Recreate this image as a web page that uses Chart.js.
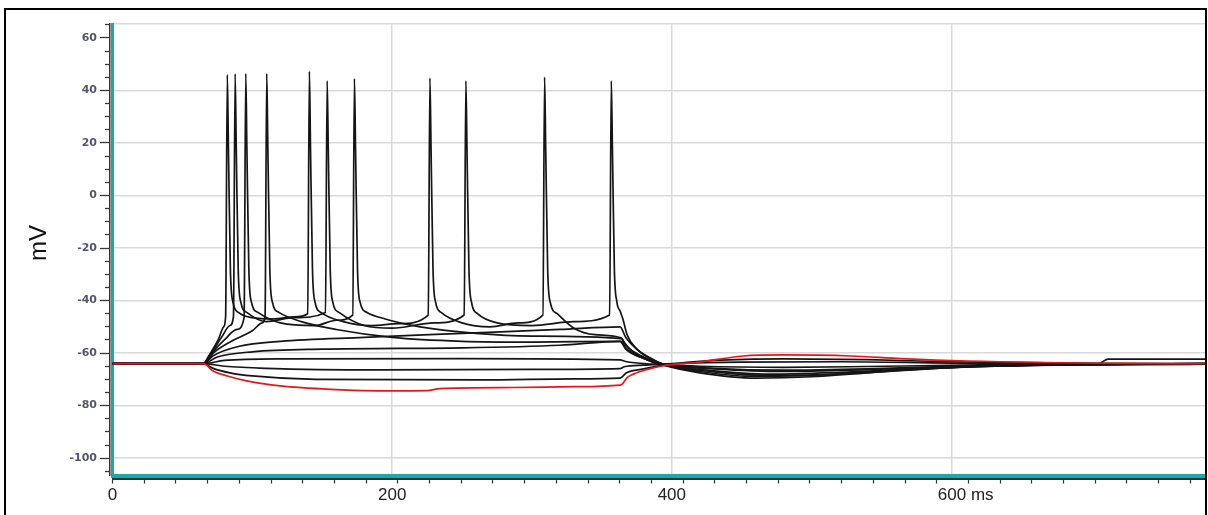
<!DOCTYPE html>
<html>
<head>
<meta charset="utf-8">
<title>Membrane potential traces</title>
<script src="https://cdn.jsdelivr.net/npm/chart.js@4.4.1/dist/chart.umd.min.js"></script>
<style>
    html, body { margin: 0; padding: 0; background: #fff; overflow: hidden; }
    #wrap { position: relative; width: 1208px; height: 515px; }
    #traceChart { display: block; }
    #frame { position: absolute; left: 4px; top: 8px; width: 1199px; height: 520px;
             border: 2px solid #000; border-bottom: none; pointer-events: none; }
</style>
</head>
<body>
<div id="wrap">
    <canvas id="traceChart" width="1208" height="515"></canvas>
    <div id="frame"></div>
</div>
<script>
// [time ms, potential mV], one array per sweep

var redTrace = [[0,-64],[65,-64],[72,-66.8],[84,-69],[96,-70.6],[120,-72.5],[156,-73.8],[200,-74.4],[225,-74.3],
    [234,-73.5],[287,-73.1],[330,-72.8],[363,-72.2],[365,-71.5],[368,-69.3],[372.5,-68],[382,-66.3],[393,-64.9],
    [420,-63.4],[451,-61.1],[480,-60.7],[528,-61.1],[564,-62.1],[611,-63],[721,-63.9],[782,-64]];

var sweep1 = [[0,-64],[65,-64],[72,-65.8],[84,-67.5],[100,-68.7],[145,-70],[263,-70.2],[330,-69.8],[363,-69.5],
    [365,-68.8],[367,-67.7],[378,-66.2],[393,-64.7],[430,-62.8],[480,-62.2],[540,-62.5],[600,-63.3],[700,-63.9],[782,-64]];

var sweep2 = [[0,-64],[65,-64],[80,-65],[110,-65.8],[190,-66.4],[300,-66.2],[363,-65.9],[366,-65.2],[380,-64.6],
    [400,-64],[450,-63.4],[520,-63.3],[600,-63.8],[705,-64],[712,-62.3],[782,-62.3]];

var sweep3 = [[0,-64],[65,-64],[80,-62.8],[120,-62.2],[250,-62.1],[363,-62.6],[367,-63.2],[385,-64.2],[420,-65],
    [480,-65.4],[540,-65.1],[620,-64.5],[782,-64]];

var sweep4 = [[0,-64],[65,-64],[75,-61.5],[100,-59.5],[150,-58.5],[250,-58],[320,-57],[363,-55.5],[367,-58.5],
    [380,-62],[395,-64.3],[430,-65.8],[480,-66.5],[540,-66],[600,-65],[700,-64.3],[782,-64]];

var sweep5 = [[0,-64],[65,-64],[72,-61],[90,-57.5],[120,-55.5],[180,-54],[250,-52.5],[320,-51],[363,-50],
    [367,-54],[376,-59],[390,-63.5],[420,-66.5],[470,-68.5],[520,-68],[580,-66],[650,-64.8],[782,-64.2]];

var sweep6 = [[0,-64],[65,-64],[72,-60],[85,-55.5],[100,-51.5],[107,-48.5],[109.1,-46],
    [110.3,46.4],[111.1,18],[112.5,-28],[114.3,-40.5],[119,-44.5],[135,-48],[160,-51],[200,-54],[250,-55.5],
    [300,-55.8],[364,-55.5],[367,-58],[380,-62],[393,-64.3],[430,-66],[480,-67],[540,-66.3],[600,-65.2],
    [700,-64.3],[782,-64]];

var sweep7 = [[0,-64],[65,-64],[71,-60],[80,-55],[89,-51],[94.1,-46.5],
    [95.3,46.4],[96.1,18],[97.5,-28],[99.3,-40.5],[104,-44.5],[120,-48.5],[145,-49.5],[160,-47.5],[171.8,-45.5],
    [173,44.5],[173.8,18],[175.2,-28],[177,-40.5],[182,-44.5],[195,-47],[220,-50],[260,-52.5],[300,-53.5],
    [364,-54.5],[367,-57],[378,-61],[393,-64.3],[425,-66.5],[470,-68],[520,-67.3],[580,-65.8],[660,-64.6],[782,-64.1]];

var sweep8 = [[0,-64],[65,-64],[70,-60.5],[78,-54],[84,-49.5],[86.5,-46],
    [87.7,46.3],[88.5,18],[89.9,-28],[91.7,-40.5],[96,-44.5],[110,-48],[130,-46.5],[152.3,-44.5],
    [153.5,43.7],[154.3,18],[155.7,-28],[157.5,-40.5],[162,-44.5],[180,-49.5],[200,-50.5],[230,-48.5],[251.5,-45.5],
    [252.7,43.7],[253.5,18],[254.9,-28],[256.7,-40.5],[261,-45],[275,-48.5],[300,-49.5],[330,-48],[355.5,-45.5],
    [356.7,43.7],[357.5,18],[358.9,-28],[360.7,-40.5],[363,-44],[365,-47],
    [368,-53],[375,-58.5],[385,-62],[395,-64.5],[420,-67],[455,-68.8],[500,-68.5],[560,-66.5],[620,-65],
    [700,-64.3],[782,-64]];

var sweep9 = [[0,-64],[65,-64],[68.9,-61],[75.7,-54.8],[79.5,-50],[80.9,-46],
    [82.1,46],[82.9,18],[84.3,-28],[86.1,-40.5],[90,-44.5],[100,-46.5],[115,-47],[130,-46.2],[139.6,-45],
    [140.8,47.3],[141.6,18],[143,-28],[144.8,-40.5],[149,-44.5],[165,-48],[185,-49.5],[205,-48.8],[225.8,-45.5],
    [227,44.7],[227.8,18],[229.2,-28],[231,-40.5],[235,-44.5],[250,-48.5],[270,-50],[290,-48.5],[307.8,-45.5],
    [309,45.1],[309.8,18],[311.2,-28],[313,-40.5],[318,-45],[330,-50.5],[345,-53],[364,-54.3],
    [366,-56],[372,-59.5],[382,-62.5],[393,-64.5],[420,-67.5],[460,-69.5],[500,-69],[540,-67.5],[600,-65.5],
    [680,-64.5],[782,-64.2]];

var blackSweeps = [sweep1, sweep2, sweep3, sweep4, sweep5, sweep6, sweep7, sweep8, sweep9];

var timeMin = 0, timeMax = 782;
var vMin = -106.6, vMax = 65.3;
var xLabelValues = [0, 200, 400, 600];
var xMinorStep = 22.67;   // small ticks under the time axis
var yMinorStep = 5;
var yLabelStep = 20;

var tealAxis = '#1aa9aa';
var gridGrey = '#d9d9d9';

function traceSet(points, color) {
    return {
        data: points,
        xAxisID: 'x',
        yAxisID: 'y',
        borderColor: color,
        borderWidth: 1.7,
        pointRadius: 0,
        fill: false,
        cubicInterpolationMode: 'monotone'
    };
}

var datasets = [traceSet(redTrace, '#e8161b')];   // first set is drawn on top
blackSweeps.forEach(function (s) {
    datasets.push(traceSet(s, '#151515'));
});

function isLabelled(v) {
    return xLabelValues.indexOf(v) >= 0;
}

Chart.defaults.font.family = 'Liberation Sans';

var ctx = document.getElementById('traceChart').getContext('2d');
var chart = new Chart(ctx, {
    type: 'line',
    data: { datasets: datasets },
    options: {
        responsive: false,
        devicePixelRatio: 1,
        animation: false,
        layout: { padding: { top: 24, right: 2, left: 0, bottom: 0 } },
        plugins: { legend: { display: false }, tooltip: { enabled: false } },
        scales: {
            x: {
                type: 'linear', position: 'bottom', weight: 0, bounds: 'data',
                min: timeMin, max: timeMax,
                afterBuildTicks: function (s) {
                    s.ticks = xLabelValues.map(function (v) { return { value: v }; });
                },
                ticks: { display: false },
                grid: { color: gridGrey, lineWidth: 1.5, drawTicks: false },
                border: { color: tealAxis, width: 4 },
                afterFit: function (s) { s.height = 3; }
            },
            x2: {
                type: 'linear', position: 'bottom', weight: 1, bounds: 'data',
                min: timeMin, max: timeMax,
                afterBuildTicks: function (s) {
                    var t = [];
                    for (var k = 0; k * xMinorStep <= timeMax; k++) {
                        t.push({ value: Math.round(k * xMinorStep * 100) / 100 });
                    }
                    xLabelValues.forEach(function (v) {
                        if (v !== 0) t.push({ value: v });
                    });
                    t.sort(function (a, b) { return a.value - b.value; });
                    s.ticks = t;
                },
                ticks: {
                    autoSkip: false, maxRotation: 0, minRotation: 0, padding: 2,
                    color: '#222', font: { size: 17 },
                    callback: function (v) {
                        if (v === 600) return '      600 ms';
                        return isLabelled(v) ? String(v) : '';
                    }
                },
                grid: {
                    drawOnChartArea: false, tickLength: 5, tickWidth: 1.2,
                    tickColor: function (c) {
                        if (c.tick && c.tick.value !== 0 && isLabelled(c.tick.value)) return 'rgba(0,0,0,0)';
                        return '#333';
                    }
                },
                border: { color: '#2b3434', width: 2 },
                afterFit: function (s) { s.height = 36.5; }
            },
            y: {
                type: 'linear', position: 'left', weight: 0,
                min: vMin, max: vMax,
                ticks: { display: false, stepSize: yLabelStep },
                grid: { color: gridGrey, lineWidth: 1.5, drawTicks: false },
                border: { color: tealAxis, width: 3 },
                afterFit: function (s) { s.width = 2.5; }
            },
            y2: {
                type: 'linear', position: 'left', weight: 1,
                min: vMin, max: vMax,
                ticks: {
                    stepSize: yMinorStep, includeBounds: false, autoSkip: false, padding: 3,
                    color: '#55556a',
                    font: { family: 'DejaVu Sans', size: 11, weight: 'bold' },
                    callback: function (v) { return v % yLabelStep === 0 ? String(v) : ''; }
                },
                grid: {
                    drawOnChartArea: false, tickLength: 10, tickWidth: 1.3, tickColor: '#3a3a3a',
                    tickBorderDash: function (c) {
                        return c.tick && c.tick.value % yLabelStep !== 0 ? [5, 5] : [];
                    },
                    tickBorderDashOffset: function (c) {
                        return c.tick && c.tick.value % yLabelStep !== 0 ? 5 : 0;
                    }
                },
                border: { color: '#333', width: 1.5 },
                title: {
                    display: true, text: '  mV', color: '#111',
                    font: { size: 24 }, padding: { top: 25, bottom: 0 }
                },
                afterFit: function (s) { s.width = 110; }
            }
        }
    }
});
</script>
</body>
</html>
